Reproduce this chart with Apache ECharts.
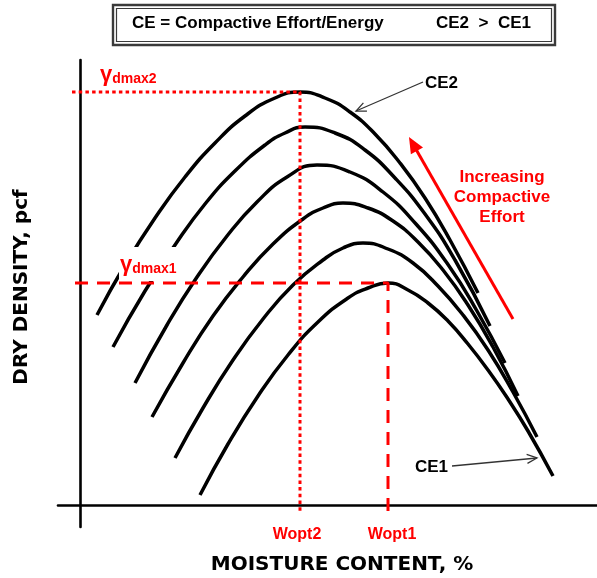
<!DOCTYPE html>
<html>
<head>
<meta charset="utf-8">
<script src="https://cdn.jsdelivr.net/npm/echarts@6/dist/echarts.min.js"></script>
<style>
  html, body { margin: 0; padding: 0; background: #fff; }
  #chart { width: 597px; height: 578px; }
</style>
</head>
<body>
<div id="chart"></div>
<script>
// Compaction curves, [moisture content, dry density] in plot units.
// Ordered from the highest compactive effort (CE2) down to the lowest (CE1).
const ce2 = [[1.7,19.0],[4.5,24.0],[7.5,28.7],[10.5,32.8],[13.5,36.2],[16.5,38.9],[19.5,40.7],[22.0,41.3],
             [24.5,40.7],[27.0,39.3],[29.5,37.1],[32.0,34.2],[34.5,30.7],[37.0,26.5],[39.8,21.2]];
const curveB = [[3.3,15.8],[6.5,21.4],[9.5,26.0],[12.5,30.1],[15.5,33.4],[18.5,36.0],[20.5,37.2],[22.5,37.8],
                [25.5,37.2],[28.5,35.5],[31.5,32.7],[34.5,29.1],[37.5,24.5],[41.0,17.9]];
const curveC = [[5.5,12.2],[8.7,18.0],[11.7,22.8],[14.7,26.9],[17.7,30.3],[20.7,32.8],[23.7,34.0],
                [27.0,33.3],[30.3,31.3],[33.6,28.1],[36.9,23.9],[39.7,19.4],[42.5,14.2]];
const curveD = [[7.2,8.8],[10.3,14.2],[13.3,18.9],[16.3,22.8],[19.3,26.1],[22.3,28.6],[24.3,29.7],[26.3,30.2],
                [28.8,29.7],[31.3,28.4],[33.8,26.3],[36.3,23.5],[38.8,20.0],[41.3,15.8],[43.8,10.9]];
const curveE = [[9.5,4.7],[12.3,9.7],[15.3,14.5],[18.3,18.6],[21.3,22.0],[24.3,24.5],[26.3,25.7],[28.3,26.2],
                [30.8,25.6],[33.3,24.2],[35.8,21.9],[38.3,19.0],[40.8,15.5],[43.3,11.3],[45.7,6.8]];
const ce1 = [[12.0,1.0],[14.8,6.1],[17.8,10.9],[20.8,15.0],[23.8,18.3],[26.8,20.7],[28.8,21.7],[30.8,22.2],
             [32.8,21.5],[34.8,20.2],[36.8,18.4],[38.8,16.1],[40.8,13.5],[42.8,10.6],[44.8,7.4],[47.3,2.9]];
const curves = [ce2, curveB, curveC, curveD, curveE, ce1];

// Text
const boxDefinition = 'CE = Compactive Effort/Energy';
const boxRelation = 'CE2  >  CE1';
const xTitle = 'MOISTURE CONTENT, %';
const yTitle = 'DRY DENSITY, pcf';
const effortNote = 'Increasing\nCompactive\nEffort';

// Optimum (peak) of a curve
const peakOf = c => c.reduce((a, b) => (b[1] > a[1] ? b : a));
const peak2 = peakOf(ce2);
const peak1 = peakOf(ce1);
const guideOut = -0.8; // guide lines run slightly past the axes
const dottedGuide = [[guideOut, peak2[1]], peak2, [peak2[0], guideOut]];
const dashedGuide = [[-0.5, peak1[1]], peak1, [peak1[0], guideOut]];

const RED = '#ff0000';
const SANS = '"Liberation Sans", Arial, sans-serif';
const WIDE = '"DejaVu Sans", sans-serif';

// arrow helper: thin open head or filled head
function arrow(tail, tip, o) {
  const dx = tip[0] - tail[0], dy = tip[1] - tail[1];
  const L = Math.hypot(dx, dy), ux = dx / L, uy = dy / L;
  const nx = -uy, ny = ux;
  const bx = tip[0] - ux * o.len, by = tip[1] - uy * o.len;
  const p1 = [bx + nx * o.half, by + ny * o.half];
  const p2 = [bx - nx * o.half, by - ny * o.half];
  const els = [];
  if (o.filled) {
    els.push({ type: 'line', z: 100, shape: { x1: tail[0], y1: tail[1], x2: bx + ux * 2, y2: by + uy * 2 },
      style: { stroke: o.color, lineWidth: o.width } });
    els.push({ type: 'polygon', z: 100, shape: { points: [tip, p1, p2] }, style: { fill: o.color } });
  } else {
    els.push({ type: 'line', z: 100, shape: { x1: tail[0], y1: tail[1], x2: tip[0], y2: tip[1] },
      style: { stroke: o.color, lineWidth: o.width } });
    els.push({ type: 'polyline', z: 100, shape: { points: [p1, tip, p2] },
      style: { stroke: o.color, lineWidth: o.width, fill: null } });
  }
  return els;
}

function gammaLabel(x, bottom, sub) {
  return {
    type: 'text', z: 101, x: x, y: bottom,
    style: {
      text: '{g|γ}{s|' + sub + '}', verticalAlign: 'bottom', align: 'left',
      rich: {
        g: { fontSize: 22, fontWeight: 'bold', fontFamily: SANS, fill: RED, verticalAlign: 'bottom' },
        s: { fontSize: 14, fontWeight: 'bold', fontFamily: SANS, fill: RED, verticalAlign: 'bottom' }
      }
    }
  };
}

const chart = echarts.init(document.getElementById('chart'), null, { renderer: 'canvas' });

const series = curves.map((c, i) => ({
  type: 'line', name: 'curve' + i, data: c, smooth: 0.5, symbol: 'none', z: 2,
  lineStyle: { color: '#000', width: 3.5 }, silent: true
}));
series.push({
  type: 'line', data: dottedGuide, symbol: 'none', z: 5, silent: true,
  lineStyle: { color: RED, width: 3, type: [3.5, 3.2] }
});
series.push({
  type: 'line', data: dashedGuide, symbol: 'none', z: 5, silent: true,
  lineStyle: { color: RED, width: 3, type: [13, 9] }
});

const graphics = [
  // definition box
  { type: 'rect', z: 100, shape: { x: 113, y: 5, width: 442, height: 40 }, style: { fill: '#fff', stroke: '#3a3a3a', lineWidth: 2.4 } },
  { type: 'rect', z: 100, shape: { x: 116.5, y: 8.5, width: 435, height: 33 }, style: { fill: 'none', stroke: '#3a3a3a', lineWidth: 1.2 } },
  { type: 'text', z: 101, x: 132, y: 23, style: { text: boxDefinition, font: 'bold 17px ' + SANS, fill: '#000', verticalAlign: 'middle' } },
  { type: 'text', z: 101, x: 436, y: 23, style: { text: boxRelation, font: 'bold 17px ' + SANS, fill: '#000', verticalAlign: 'middle' } },
  // axis titles
  { type: 'text', z: 101, x: 342, y: 565, style: { text: xTitle, font: 'bold 20px ' + WIDE, fill: '#000', align: 'center', verticalAlign: 'middle' } },
  { type: 'text', z: 101, x: 22, y: 287, rotation: Math.PI / 2, style: { text: yTitle, font: 'bold 20px ' + WIDE, fill: '#000', align: 'center', verticalAlign: 'middle' } },
  // optimum labels
  gammaLabel(100, 86, 'dmax2'),
  { type: 'rect', z: 99, shape: { x: 119, y: 247, width: 62, height: 34 }, style: { fill: '#fff' } },
  gammaLabel(120, 276, 'dmax1'),
  { type: 'text', z: 101, x: 297, y: 535, style: { text: 'Wopt2', font: 'bold 16px ' + SANS, fill: RED, align: 'center', verticalAlign: 'middle' } },
  { type: 'text', z: 101, x: 392, y: 535, style: { text: 'Wopt1', font: 'bold 16px ' + SANS, fill: RED, align: 'center', verticalAlign: 'middle' } },
  // effort note
  { type: 'text', z: 101, x: 502, y: 197, style: { text: effortNote, font: 'bold 17px ' + SANS, lineHeight: 20, fill: RED, align: 'center', verticalAlign: 'middle' } },
  // curve labels
  { type: 'text', z: 101, x: 425, y: 83, style: { text: 'CE2', font: 'bold 17px ' + SANS, fill: '#000', verticalAlign: 'middle' } },
  { type: 'text', z: 101, x: 415, y: 467, style: { text: 'CE1', font: 'bold 17px ' + SANS, fill: '#000', verticalAlign: 'middle' } }
]
  .concat(arrow([423, 82], [356, 111], { len: 10, half: 4.5, width: 1.3, color: '#333' }))
  .concat(arrow([452, 466], [537, 458], { len: 10, half: 4.5, width: 1.3, color: '#333' }))
  .concat(arrow([513, 319], [409, 137], { len: 16, half: 7, width: 3, color: RED, filled: true }));

chart.setOption({
  backgroundColor: '#fff',
  animation: false,
  grid: { left: 58, right: 0, top: 60, bottom: 51, containLabel: false },
  xAxis: {
    type: 'value', min: -2.2, max: 51.7,
    axisLine: { onZero: true, lineStyle: { color: '#000', width: 2.6 } },
    axisTick: { show: false }, axisLabel: { show: false }, splitLine: { show: false }
  },
  yAxis: {
    type: 'value', min: -2.2, max: 44.5,
    axisLine: { show: true, onZero: true, lineStyle: { color: '#000', width: 2.6 } },
    axisTick: { show: false }, axisLabel: { show: false }, splitLine: { show: false }
  },
  series: series,
  graphic: graphics
});
</script>
</body>
</html>
